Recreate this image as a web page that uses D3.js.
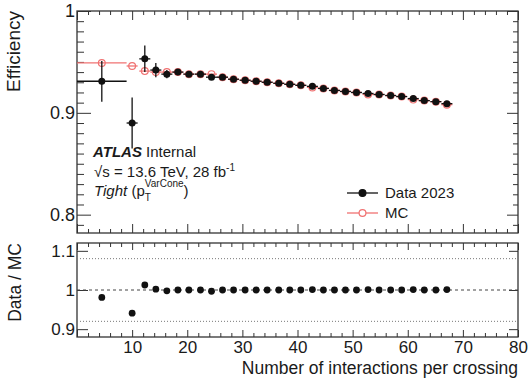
<!DOCTYPE html>
<html><head><meta charset="utf-8">
<script src="https://cdn.jsdelivr.net/npm/d3@7"></script>
<style>
body{margin:0;background:#fff}
svg{display:block}
text{font-family:"Liberation Sans",Arial,Helvetica,sans-serif;fill:#1a1a1a}
</style>
</head><body>
<svg id="chart" width="529" height="384"></svg>
<script>
// Bins of the number of interactions per crossing
const binCenters = [4.5, 10.0, 12.3, 14.3, 16.3, 18.3, 20.3, 22.4, 24.4, 26.4, 28.4, 30.5, 32.5, 34.5, 36.6,
  38.6, 40.6, 42.7, 44.7, 46.7, 48.7, 50.7, 52.8, 54.8, 56.9, 58.9, 61.0, 63.0, 65.1, 67.1];
const binHalfWidths = [4.5, 1, 1, 1, 1, 1, 1, 1, 1, 1, 1, 1, 1, 1, 1,
  1, 1, 1, 1, 1, 1, 1, 1, 1, 1, 1, 1, 1, 1, 1];

// Tight isolation efficiency, data 2023
const dataEff = [0.931, 0.890, 0.953, 0.942, 0.938, 0.940, 0.938, 0.938, 0.935, 0.935, 0.933, 0.932, 0.931, 0.930, 0.929,
  0.928, 0.927, 0.926, 0.924, 0.922, 0.921, 0.920, 0.919, 0.918, 0.917, 0.916, 0.914, 0.912, 0.911, 0.909];
const dataErr = [0.020, 0.025, 0.013, 0.007, 0.004, 0.003, 0.002, 0.002, 0.002, 0.002, 0.002, 0.002, 0.002, 0.002, 0.002,
  0.002, 0.002, 0.002, 0.002, 0.002, 0.002, 0.002, 0.002, 0.002, 0.002, 0.002, 0.002, 0.002, 0.002, 0.002];

// Same efficiency in simulation
const mcEff = [0.949, 0.946, 0.941, 0.940, 0.940, 0.940, 0.938, 0.938, 0.938, 0.935, 0.933, 0.932, 0.931, 0.930, 0.929,
  0.928, 0.927, 0.925, 0.924, 0.922, 0.921, 0.920, 0.918, 0.918, 0.917, 0.916, 0.913, 0.912, 0.911, 0.908];

// Axis ticks
const xMajorTicks = [0, 10, 20, 30, 40, 50, 60, 70, 80];
const xLabelTicks = [10, 20, 30, 40, 50, 60, 70, 80];
const effMajorTicks = [0.8, 0.9, 1.0];
const ratioMajorTicks = [0.9, 1.0, 1.1];
const ratioBand = [0.92, 1.08];

const dataColor = "#111";
const mcColor = "#f07272";

const svg = d3.select("#chart");
svg.append("rect").attr("width", 529).attr("height", 384).attr("fill", "#fff");

// panel geometry
const L = 77, R = 518;
const top1 = 11, bot1 = 233;
const top2 = 243, bot2 = 337;

const x = d3.scaleLinear().domain([0, 80]).range([L, R]);
const yEff = d3.scaleLinear().domain([0.782, 1.0]).range([bot1, top1]);
const yRatio = d3.scaleLinear().domain([0.88, 1.12]).range([bot2, top2]);

const xMinor = d3.range(2, 80, 2).filter(v => v % 10 !== 0);
const effMinor = d3.range(79, 100).map(v => v / 100).filter(v => Math.round(v * 100) % 10 !== 0);

function axis(gen, pos, values, size, fmt, pad, fs) {
  const g = svg.append("g").attr("transform", pos)
    .call(gen.tickValues(values).tickSize(size).tickPadding(pad || 3).tickFormat(fmt || (() => "")));
  g.select(".domain").remove();
  g.selectAll("line").attr("stroke", "#333").attr("stroke-width", 1);
  g.selectAll("text").attr("font-size", fs || 17).attr("fill", "#1a1a1a")
    .attr("font-family", '"Liberation Sans",Arial,sans-serif');
  return g;
}
const fmtEff = d => d === 1 ? "1" : d3.format(".1f")(d);

// ---- upper panel axes
axis(d3.axisLeft(yEff), `translate(${L},0)`, effMajorTicks, -14, fmtEff, 2, 18);
axis(d3.axisLeft(yEff), `translate(${L},0)`, effMinor, -7);
axis(d3.axisRight(yEff), `translate(${R},0)`, effMajorTicks, -11);
axis(d3.axisRight(yEff), `translate(${R},0)`, effMinor, -5);
axis(d3.axisBottom(x), `translate(0,${bot1})`, xMajorTicks, -9);
axis(d3.axisBottom(x), `translate(0,${bot1})`, xMinor, -4);
axis(d3.axisTop(x), `translate(0,${top1})`, xMajorTicks, -9);
axis(d3.axisTop(x), `translate(0,${top1})`, xMinor, -4);

// ---- lower panel axes
axis(d3.axisLeft(yRatio), `translate(${L},0)`, ratioMajorTicks, -11, fmtEff, 2, 17);
axis(d3.axisRight(yRatio), `translate(${R},0)`, ratioMajorTicks, -9);
axis(d3.axisBottom(x), `translate(0,${bot2})`, xMajorTicks, -7);
axis(d3.axisBottom(x), `translate(0,${bot2})`, xMinor, -4);
axis(d3.axisBottom(x), `translate(0,${bot2})`, xLabelTicks, 0, d => d, 4);
axis(d3.axisTop(x), `translate(0,${top2})`, xMajorTicks, -7);
axis(d3.axisTop(x), `translate(0,${top2})`, xMinor, -4);

// frames
[[top1, bot1], [top2, bot2]].forEach(([t, b]) => {
  svg.append("rect").attr("x", L).attr("y", t).attr("width", R - L).attr("height", b - t)
    .attr("fill", "none").attr("stroke", "#333").attr("stroke-width", 1.3);
});

// ---- efficiency panel: MC
const up = svg.append("g");
const mcPts = binCenters.map((c, i) => ({ c, hw: binHalfWidths[i], v: mcEff[i] }));
up.selectAll(".mch").data(mcPts).join("line")
  .attr("x1", d => x(d.c - d.hw)).attr("x2", d => x(d.c + d.hw))
  .attr("y1", d => yEff(d.v)).attr("y2", d => yEff(d.v))
  .attr("stroke", mcColor).attr("stroke-width", 1.3);
up.selectAll(".mcm").data(mcPts).join("circle")
  .attr("cx", d => x(d.c)).attr("cy", d => yEff(d.v)).attr("r", 3.4)
  .attr("fill", "none").attr("stroke", mcColor).attr("stroke-width", 1.2);

// ---- efficiency panel: data
const dPts = binCenters.map((c, i) => ({ c, hw: binHalfWidths[i], v: dataEff[i], e: dataErr[i] }));
up.selectAll(".dh").data(dPts).join("line")
  .attr("x1", d => x(d.c - d.hw)).attr("x2", d => x(d.c + d.hw))
  .attr("y1", d => yEff(d.v)).attr("y2", d => yEff(d.v))
  .attr("stroke", dataColor).attr("stroke-width", 1.3);
up.selectAll(".dv").data(dPts).join("line")
  .attr("x1", d => x(d.c)).attr("x2", d => x(d.c))
  .attr("y1", d => yEff(d.v - d.e)).attr("y2", d => yEff(d.v + d.e))
  .attr("stroke", dataColor).attr("stroke-width", 1.3);
up.selectAll(".dm").data(dPts).join("circle")
  .attr("cx", d => x(d.c)).attr("cy", d => yEff(d.v)).attr("r", 3.5)
  .attr("fill", dataColor);

// ---- ratio panel
const lo = svg.append("g");
ratioBand.forEach(v => {
  lo.append("line").attr("x1", L).attr("x2", R).attr("y1", yRatio(v)).attr("y2", yRatio(v))
    .attr("stroke", "#777").attr("stroke-width", 1).attr("stroke-dasharray", "1,2");
});
lo.append("line").attr("x1", L).attr("x2", R).attr("y1", yRatio(1)).attr("y2", yRatio(1))
  .attr("stroke", "#444").attr("stroke-width", 1).attr("stroke-dasharray", "3,3");
const rPts = binCenters.map((c, i) => ({ c, v: dataEff[i] / mcEff[i] }));
lo.selectAll(".rm").data(rPts).join("circle")
  .attr("cx", d => x(d.c)).attr("cy", d => yRatio(d.v)).attr("r", 3.4)
  .attr("fill", dataColor);

// ---- titles
svg.append("text").attr("transform", `translate(20,${top1}) rotate(-90)`)
  .attr("text-anchor", "end").attr("font-size", 19).text("Efficiency");
svg.append("text").attr("transform", `translate(21,${top2}) rotate(-90)`)
  .attr("text-anchor", "end").attr("font-size", 17.5).text("Data / MC");
svg.append("text").attr("x", R).attr("y", 374).attr("text-anchor", "end")
  .attr("font-size", 17.5).text("Number of interactions per crossing");

// ---- ATLAS label block
const lab = svg.append("g").attr("font-size", 15);
const l1 = lab.append("text").attr("x", 93).attr("y", 157);
l1.append("tspan").attr("font-weight", "bold").attr("font-style", "italic").text("ATLAS");
l1.append("tspan").text(" Internal");
const l2 = lab.append("text").attr("x", 94).attr("y", 176.5);
l2.append("tspan").text("√s = 13.6 TeV, 28 fb");
l2.append("tspan").attr("font-size", 10).attr("dy", -6).text("-1");
const l3 = lab.append("text").attr("x", 94).attr("y", 196);
l3.append("tspan").attr("font-style", "italic").text("Tight");
l3.append("tspan").text(" (p");
l3.append("tspan").attr("font-size", 10).attr("dy", 5).text("T");
l3.append("tspan").attr("font-size", 10).attr("dx", -6).attr("dy", -14).text("VarCone");
l3.append("tspan").attr("dy", 9).text(")");

// ---- legend
const legendItems = [
  { label: "Data 2023", color: dataColor, filled: true, y: 193 },
  { label: "MC", color: mcColor, filled: false, y: 213 }
];
const lg = svg.append("g");
legendItems.forEach(it => {
  lg.append("line").attr("x1", 347).attr("x2", 378).attr("y1", it.y).attr("y2", it.y)
    .attr("stroke", it.color).attr("stroke-width", 1.3);
  lg.append("circle").attr("cx", 362.5).attr("cy", it.y).attr("r", 3.4)
    .attr("fill", it.filled ? it.color : "#fff").attr("stroke", it.color).attr("stroke-width", 1.2);
  lg.append("text").attr("x", 385).attr("y", it.y).attr("dy", "0.35em")
    .attr("font-size", 15).text(it.label);
});
</script>
</body></html>
